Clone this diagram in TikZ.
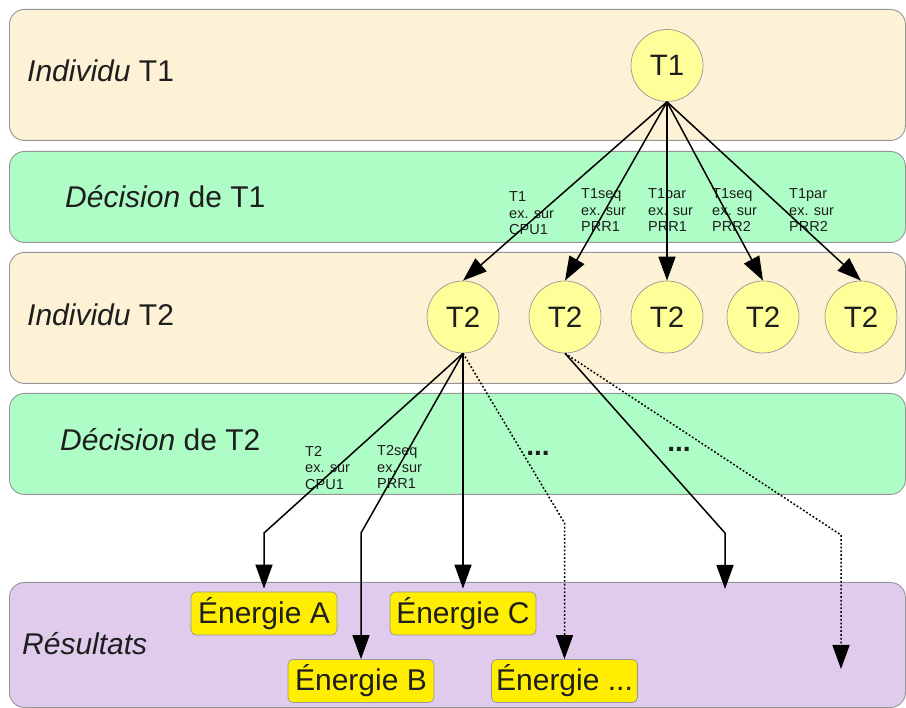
\documentclass[tikz,border=0pt]{standalone}
\usepackage{fontspec}
\setmainfont{Liberation Sans}
\usetikzlibrary{arrows.meta}
\definecolor{cream}{RGB}{253,242,214}
\definecolor{mint}{RGB}{174,253,198}
\definecolor{lilac}{RGB}{224,203,236}
\definecolor{circfill}{RGB}{255,255,153}
\definecolor{boxfill}{RGB}{255,238,0}
\definecolor{edgegray}{RGB}{150,150,150}
\definecolor{ink}{RGB}{30,30,30}
\begin{document}
\begin{tikzpicture}[x=1pt,y=-1pt,
  band/.style={draw=edgegray, line width=0.9pt, rounded corners=15pt, inner sep=0pt, anchor=north west},
  bandlabel/.style={anchor=base west, inner sep=0pt, text=ink, font=\fontsize{30}{31}\selectfont},
  circnode/.style={circle, draw=edgegray, line width=0.7pt, fill=circfill, minimum size=72pt, inner sep=0pt, text=ink, font=\fontsize{29.5}{30}\selectfont},
  elabel/.style={anchor=north west, inner sep=0pt, align=left, text=ink, font=\fontsize{14.5}{16.5}\selectfont},
  dots/.style={anchor=base, inner sep=0pt, text=ink, font=\fontsize{28}{30}\selectfont\bfseries},
  ebox/.style={draw=edgegray, line width=0.7pt, fill=boxfill, rounded corners=5pt, minimum width=146pt, minimum height=43pt, inner sep=0pt, text=ink, font=\fontsize{30}{31}\selectfont},
  arr/.style={line width=1.5pt, -{Triangle[length=24pt,width=17pt]}},
  darr/.style={arr, dash pattern=on 1.8pt off 2pt}
]
\useasboundingbox (0,0) rectangle (906,708);
% bands
\node[band, fill=cream, minimum width=896pt, minimum height=131pt] (b1) at (9,9) {};
\node[band, fill=mint, minimum width=896pt, minimum height=91pt] (b2) at (9,151) {};
\node[band, fill=cream, minimum width=896pt, minimum height=131pt] (b3) at (9,252) {};
\node[band, fill=mint, minimum width=896pt, minimum height=101pt] (b4) at (9,393) {};
\node[band, fill=lilac, minimum width=896pt, minimum height=125pt] (b5) at (9,582) {};
% band labels
\node[bandlabel] (l1) at (27,82) {\textit{Individu} T1};
\node[bandlabel] (l2) at (65,208) {\textit{Décision} de T1};
\node[bandlabel] (l3) at (27,326) {\textit{Individu} T2};
\node[bandlabel] (l4) at (60,451) {\textit{Décision} de T2};
\node[bandlabel] (l5) at (22,655) {\textit{Résultats}};
% circles
\node[circnode] (t1) at (667,65.5) {T1};
\node[circnode] (t2a) at (463,317) {T2};
\node[circnode] (t2b) at (565,317) {T2};
\node[circnode] (t2c) at (667,317) {T2};
\node[circnode] (t2d) at (763,317) {T2};
\node[circnode] (t2e) at (861,317) {T2};
% edge labels
\node[elabel] (e1) at (509,191.5) {T1\\ex. sur\\CPU1};
\node[elabel] (e2) at (581,188.5) {T1seq\\ex. sur\\PRR1};
\node[elabel] (e3) at (648,188.5) {T1par\\ex. sur\\PRR1};
\node[elabel] (e4) at (712,188.5) {T1seq\\ex. sur\\PRR2};
\node[elabel] (e5) at (789,188.5) {T1par\\ex. sur\\PRR2};
\node[elabel] (f1) at (305,446) {T2\\ex. sur\\CPU1};
\node[elabel] (f2) at (377,445.5) {T2seq\\ex. sur\\PRR1};
\node[dots] (d1) at (538,456) {...};
\node[dots] (d2) at (679,452) {...};
% result boxes
\node[ebox] (ea) at (264,613.5) {Énergie A};
\node[ebox] (ec) at (463,613.5) {Énergie C};
\node[ebox] (eb) at (361,681) {Énergie B};
\node[ebox] (ed) at (564.5,681) {Énergie ...};
% bend points and free ends
\coordinate (ka) at (264,533);
\coordinate (kb) at (361,533);
\coordinate (kd) at (564.5,523);
\coordinate (ke) at (725,533);
\coordinate (kf) at (841,535);
\coordinate (ze) at (725,589);
\coordinate (zf) at (841,669);
% arrows T1 -> T2
\draw[arr] (t1.south) -- (t2a.north);
\draw[arr] (t1.south) -- (t2b.north);
\draw[arr] (t1.south) -- (t2c.north);
\draw[arr] (t1.south) -- (t2d.north);
\draw[arr] (t1.south) -- (t2e.north);
% arrows T2 -> results
\draw[arr, shorten >=3pt] (t2a.south) -- (ka) -- (ea.north);
\draw[arr] (t2a.south) -- (kb) -- (eb.north);
\draw[arr, shorten >=3pt] (t2a.south) -- (ec.north);
\draw[darr] (t2a.south) -- (kd) -- (ed.north);
\draw[arr] (t2b.south) -- (ke) -- (ze);
\draw[darr] (t2b.south) -- (kf) -- (zf);
\end{tikzpicture}
\end{document}
